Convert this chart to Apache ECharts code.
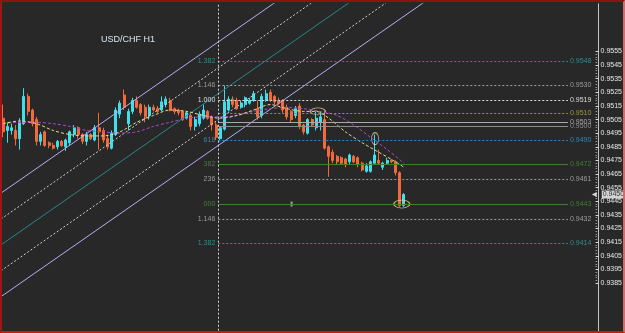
<!DOCTYPE html>
<html>
<head>
<meta charset="utf-8">
<script src="https://cdn.jsdelivr.net/npm/echarts@6/dist/echarts.min.js"></script>
<style>
  html, body { margin: 0; padding: 0; background: #282828; }
  #wrap { position: relative; width: 625px; height: 333px; }
  #chart { width: 625px; height: 333px; }
  #frame { position: absolute; left: 0; top: 0; width: 625px; height: 333px; box-sizing: border-box;
           border: 2px solid #b01c1c; border-color: #8e1212 #d46a6a #c01c1c #a01414; pointer-events: none; }
</style>
</head>
<body>
<div id="wrap"><div id="chart"></div><div id="frame"></div></div>
<script>
const symbolName = 'USD/CHF H1'

// H1 candles, [open, close, low, high]
const candles = [
  [0.9506, 0.9496, 0.9492, 0.9516], [0.9497, 0.9500, 0.9488, 0.9503], [0.9497, 0.9499, 0.9494, 0.9502],
  [0.9497, 0.9491, 0.9486, 0.9501], [0.9491, 0.9503, 0.9483, 0.9506], [0.9502, 0.9522, 0.9501, 0.9528],
  [0.9522, 0.9511, 0.9508, 0.9524], [0.9512, 0.9502, 0.9500, 0.9513], [0.9505, 0.9489, 0.9486, 0.9507],
  [0.9489, 0.9494, 0.9486, 0.9496], [0.9496, 0.9486, 0.9485, 0.9497], [0.9488, 0.9486, 0.9484, 0.9489],
  [0.9486, 0.9484, 0.9483, 0.9488], [0.9485, 0.9489, 0.9483, 0.9490], [0.9489, 0.9486, 0.9485, 0.9490],
  [0.9485, 0.9490, 0.9482, 0.9491], [0.9488, 0.9496, 0.9486, 0.9497], [0.9494, 0.9499, 0.9492, 0.9501],
  [0.9499, 0.9494, 0.9491, 0.9500], [0.9494, 0.9489, 0.9487, 0.9495], [0.9489, 0.9494, 0.9486, 0.9496],
  [0.9494, 0.9491, 0.9490, 0.9495], [0.9490, 0.9499, 0.9489, 0.9501], [0.9499, 0.9496, 0.9483, 0.9510],
  [0.9497, 0.9490, 0.9488, 0.9499], [0.9491, 0.9485, 0.9483, 0.9494], [0.9484, 0.9495, 0.9483, 0.9497],
  [0.9494, 0.9512, 0.9493, 0.9514], [0.9509, 0.9517, 0.9506, 0.9519], [0.9523, 0.9514, 0.9512, 0.9527],
  [0.9502, 0.9511, 0.9497, 0.9513], [0.9511, 0.9519, 0.9509, 0.9521], [0.9519, 0.9514, 0.9513, 0.9522],
  [0.9516, 0.9510, 0.9508, 0.9517], [0.9514, 0.9507, 0.9503, 0.9516], [0.9508, 0.9514, 0.9505, 0.9516],
  [0.9514, 0.9512, 0.9511, 0.9516], [0.9513, 0.9511, 0.9510, 0.9515], [0.9512, 0.9518, 0.9511, 0.9522],
  [0.9516, 0.9520, 0.9514, 0.9522], [0.9519, 0.9512, 0.9511, 0.9521], [0.9513, 0.9511, 0.9509, 0.9514],
  [0.9512, 0.9510, 0.9508, 0.9513], [0.9511, 0.9505, 0.9504, 0.9512], [0.9506, 0.9510, 0.9505, 0.9511],
  [0.9508, 0.9500, 0.9497, 0.9510], [0.9500, 0.9505, 0.9497, 0.9507], [0.9502, 0.9509, 0.9500, 0.9511],
  [0.9506, 0.9512, 0.9505, 0.9516], [0.9511, 0.9506, 0.9505, 0.9512], [0.9507, 0.9501, 0.9497, 0.9508],
  [0.9501, 0.9492, 0.9490, 0.9503], [0.9491, 0.9499, 0.9489, 0.9500], [0.9498, 0.9518, 0.9497, 0.9530],
  [0.9512, 0.9520, 0.9511, 0.9522], [0.9520, 0.9516, 0.9514, 0.9522], [0.9519, 0.9513, 0.9512, 0.9521],
  [0.9514, 0.9517, 0.9513, 0.9519], [0.9516, 0.9521, 0.9514, 0.9522], [0.9517, 0.9519, 0.9516, 0.9521],
  [0.9519, 0.9524, 0.9518, 0.9526], [0.9513, 0.9507, 0.9505, 0.9519], [0.9508, 0.9522, 0.9506, 0.9524],
  [0.9519, 0.9524, 0.9518, 0.9527], [0.9525, 0.9519, 0.9518, 0.9527], [0.9522, 0.9518, 0.9516, 0.9523],
  [0.9519, 0.9517, 0.9516, 0.9521], [0.9519, 0.9512, 0.9510, 0.9520], [0.9514, 0.9507, 0.9505, 0.9516],
  [0.9511, 0.9505, 0.9503, 0.9512], [0.9508, 0.9513, 0.9506, 0.9515], [0.9515, 0.9500, 0.9498, 0.9517],
  [0.9501, 0.9496, 0.9494, 0.9502], [0.9495, 0.9505, 0.9494, 0.9506], [0.9505, 0.9501, 0.9500, 0.9506],
  [0.9499, 0.9506, 0.9497, 0.9511], [0.9503, 0.9507, 0.9497, 0.9511], [0.9505, 0.9484, 0.9483, 0.9511],
  [0.9485, 0.9478, 0.9463, 0.9486], [0.9481, 0.9475, 0.9473, 0.9483], [0.9478, 0.9474, 0.9472, 0.9479],
  [0.9477, 0.9473, 0.9472, 0.9478], [0.9476, 0.9472, 0.9470, 0.9477], [0.9474, 0.9479, 0.9472, 0.9480],
  [0.9478, 0.9474, 0.9473, 0.9479], [0.9477, 0.9472, 0.9470, 0.9478], [0.9473, 0.9468, 0.9467, 0.9474],
  [0.9467, 0.9471, 0.9466, 0.9473], [0.9467, 0.9474, 0.9466, 0.9475], [0.9473, 0.9479, 0.9472, 0.9494],
  [0.9475, 0.9473, 0.9472, 0.9483], [0.9470, 0.9473, 0.9468, 0.9474], [0.9473, 0.9475, 0.9472, 0.9477],
  [0.9475, 0.9474, 0.9473, 0.9476], [0.9474, 0.9466, 0.9464, 0.9475], [0.9466, 0.9442, 0.9441, 0.9467],
  [0.9442, 0.9450, 0.9441, 0.9451]
]
const lastPrice = 0.9450
const slotCount = 143   // bars that fit the window, incl. the empty shift on the right

// moving averages, [bar, price]
const maFast = [
  [0, 0.9502], [4, 0.9504], [8, 0.9502], [12, 0.9497], [16, 0.9494], [20, 0.9493], [24, 0.9493],
  [28, 0.9496], [32, 0.9503], [36, 0.9508], [40, 0.9512], [44, 0.9511], [48, 0.9508], [52, 0.9506],
  [56, 0.9508], [60, 0.9512], [64, 0.9516], [68, 0.9513], [72, 0.9511], [75, 0.9511], [78, 0.9506],
  [82, 0.9496], [86, 0.9488], [90, 0.9481], [94, 0.9474], [96, 0.9470]
]
const maSlow = [
  [0, 0.9502], [4, 0.9503], [8, 0.9503], [12, 0.9502], [16, 0.9500], [20, 0.9497], [24, 0.9496],
  [28, 0.9495], [32, 0.9496], [36, 0.9500], [40, 0.9503], [44, 0.9506], [48, 0.9507], [52, 0.9507],
  [56, 0.9508], [60, 0.9511], [64, 0.9513], [68, 0.9514], [72, 0.9513], [76, 0.9511], [80, 0.9508],
  [84, 0.9501], [88, 0.9492], [92, 0.9483], [96, 0.9473]
]

// parallel channel: price of each line at the left edge and at the right edge
const channelBars = [-0.5, 142.5]
const channelLeft = [0.9451, 0.9432, 0.9413, 0.9394, 0.9375]
const channelRight = [0.9756, 0.9737, 0.9718, 0.9699, 0.9680]

// fibonacci levels
const fibBars = [51.55, 135.3]
const fibPrices = [0.9548, 0.9530, 0.9519, 0.9510, 0.9503, 0.9500, 0.9490, 0.9472, 0.9461, 0.9443, 0.9432, 0.9414]
const fibNames = ['1.382', '1.146', '1.000', '', '', '', '618', '382', '236', '000', '1.146', '1.382']

// marked spots (ellipses) and a small object
const marks = [[75.4, 0.9511], [89.1, 0.9491], [95.5, 0.9443]]
const smallObj = [[69.1, 0.9443]]

// price scale labels
const priceLabels = ['0.9385', '0.9395', '0.9405', '0.9415', '0.9425', '0.9435', '0.9445', '0.9455', '0.9465',
  '0.9475', '0.9485', '0.9495', '0.9505', '0.9515', '0.9525', '0.9535', '0.9545', '0.9555']

// ---- styles ----
const FONT = '"Liberation Sans", Arial, sans-serif'
const UP = '#3ee0ec', DOWN = '#f26a3c'
const DOT = [2, 2]
const fibColor = ['#2f8c8e', '#9c9c9c', '#dedede', '#9a9a34', '#a8a8a8', '#8c8c8c',
  '#2e86b8', '#3f7f30', '#9c9c9c', '#3f7f30', '#9c9c9c', '#2f8c8e']
const fibSolid = [false, false, false, false, true, true, false, true, false, true, false, false]
const channelColor = ['#b6aef0', '#d0d0d0', '#2a8686', '#d0d0d0', '#b6aef0']
const channelDotted = [false, true, false, true, false]
const markSize = [[15, 7], [7, 12], [16, 8]]

const fibLines = []
fibPrices.forEach((p, k) => {
  const color = fibColor[k]
  fibLines.push([
    { coord: [fibBars[0], p],
      lineStyle: { color, width: 1, type: fibSolid[k] ? 'solid' : DOT },
      label: { show: !!fibNames[k], position: 'start', formatter: fibNames[k], color, fontSize: 7, fontFamily: FONT, distance: 3 } },
    { coord: [fibBars[1], p] }
  ])
  fibLines.push([
    { coord: [fibBars[0], p], lineStyle: { color: 'rgba(0,0,0,0)', width: 1 },
      label: { show: true, position: 'end', formatter: p.toFixed(4), color, fontSize: 7, fontFamily: FONT, distance: 2 } },
    { coord: [fibBars[1], p] }
  ])
})

const series = []

channelLeft.forEach((p, k) => {
  series.push({
    type: 'line', xAxisIndex: 1, yAxisIndex: 0, symbol: 'none', silent: true,
    data: [[channelBars[0], p], [channelBars[1], channelRight[k]]],
    lineStyle: { color: channelColor[k], width: 1, type: channelDotted[k] ? DOT : 'solid' }
  })
})

series.push({
  type: 'line', xAxisIndex: 1, yAxisIndex: 0, data: [], silent: true,
  markLine: {
    symbol: ['none', 'none'], silent: true, animation: false,
    data: [
      ...fibLines,
      { xAxis: fibBars[0], lineStyle: { color: '#cfcfcf', width: 1, type: DOT }, label: { show: false } }
    ]
  }
})

series.push({
  type: 'candlestick', xAxisIndex: 0, yAxisIndex: 0, data: candles, barWidth: 2.5,
  itemStyle: { color: UP, color0: DOWN, borderColor: UP, borderColor0: DOWN, borderWidth: 1 }
})

series.push({
  type: 'line', xAxisIndex: 1, yAxisIndex: 0, data: maSlow, symbol: 'none', smooth: 0.3,
  lineStyle: { color: '#b045c6', width: 1, type: [3, 2] }
})
series.push({
  type: 'line', xAxisIndex: 1, yAxisIndex: 0, data: maFast, symbol: 'none', smooth: 0.3,
  lineStyle: { color: '#e6da86', width: 1, type: [3, 2] }
})

series.push({
  type: 'scatter', xAxisIndex: 1, yAxisIndex: 0, symbol: 'circle',
  data: marks.map((m, k) => ({ value: m, symbolSize: markSize[k] })),
  itemStyle: { color: 'rgba(0,0,0,0)', borderColor: '#e4da8c', borderWidth: 1 }
})
series.push({
  type: 'scatter', xAxisIndex: 1, yAxisIndex: 0, symbol: 'rect', symbolSize: [2, 5],
  data: smallObj, itemStyle: { color: '#bdbdbd' }
})

series.push({
  type: 'scatter', xAxisIndex: 1, yAxisIndex: 0, symbol: 'triangle', symbolRotate: 90, symbolSize: [5, 5],
  data: [[141.6, lastPrice]], itemStyle: { color: '#ffffff' }, clip: false, z: 20,
  label: {
    show: true, position: 'right', distance: 5, formatter: lastPrice.toFixed(4),
    backgroundColor: '#ffffff', color: '#000000', fontSize: 7, fontFamily: FONT, padding: [1, 1, 0, 1]
  }
})

const chart = echarts.init(document.getElementById('chart'))
chart.setOption({
  animation: false,
  backgroundColor: '#282828',
  title: {
    text: symbolName, left: 101, top: 35, padding: 0,
    textStyle: { color: '#d4e6f0', fontSize: 9, fontWeight: 'normal', fontFamily: FONT }
  },
  grid: [
    { left: 1, right: 27, top: 3.8, bottom: 2.3 },
    { left: 1, right: 27, top: 51.47, bottom: 50 }
  ],
  xAxis: [
    { type: 'category', gridIndex: 0, data: Array.from({ length: slotCount }, (_, i) => String(i)), show: false },
    { type: 'value', gridIndex: 0, min: -0.5, max: slotCount - 0.5, show: false },
    { type: 'value', gridIndex: 1, min: 0, max: 1, show: false }
  ],
  yAxis: [
    {
      type: 'value', gridIndex: 0, position: 'right', min: 0.935, max: 0.959,
      axisLine: { show: true, onZero: false, lineStyle: { color: '#c4c4c4' } },
      axisTick: { show: false }, axisLabel: { show: false }, splitLine: { show: false }
    },
    {
      type: 'value', gridIndex: 1, position: 'right', min: 0, max: priceLabels.length - 1, interval: 1,
      axisLine: { show: false, onZero: false },
      axisTick: { show: true, length: 3, lineStyle: { color: '#d8d8d8' } },
      minorTick: { show: true, splitNumber: 5, length: 1.5, lineStyle: { color: '#9a9a9a' } },
      axisLabel: { show: true, margin: 5, color: '#e8e8e8', fontSize: 7, fontFamily: FONT,
        formatter: v => priceLabels[Math.round(v)] || '' },
      splitLine: { show: false }
    }
  ],
  series
})
</script>
</body>
</html>
